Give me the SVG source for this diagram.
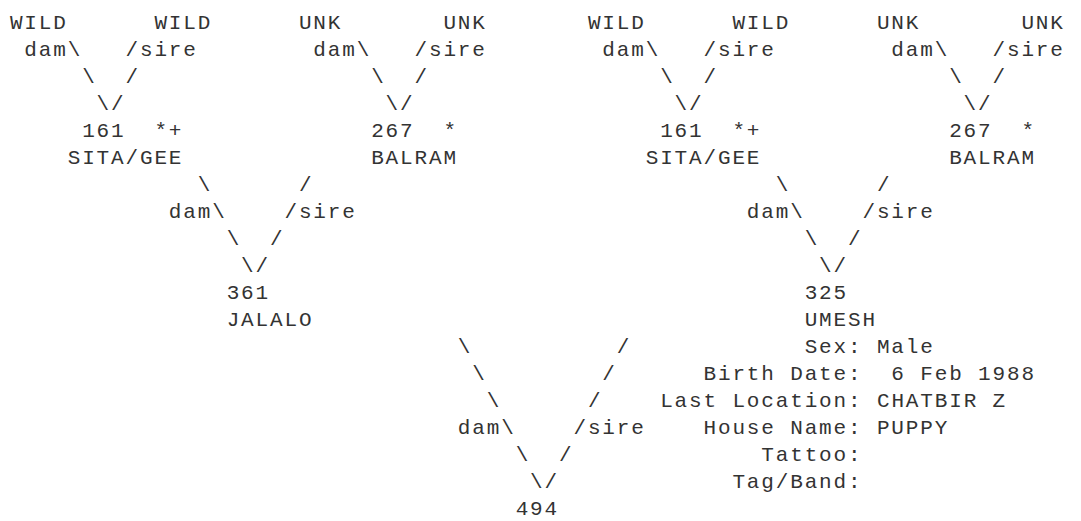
<svg xmlns="http://www.w3.org/2000/svg" width="1081" height="521" viewBox="0 0 1081 521">
<style>
text{font-family:"Liberation Mono","DejaVu Sans Mono",monospace;font-size:21px;letter-spacing:1.85px;fill:#333;}
</style>
<rect width="1081" height="521" fill="#fff"/>
<g transform="translate(0.9,0)">
<g id="connectors">
<text x="23.45" y="56">dam\</text><text x="124.6" y="56">/sire</text>
<text x="81.25" y="83">\</text><text x="124.6" y="83">/</text>
<text x="95.7" y="110">\/</text>
<text x="312.45" y="56">dam\</text><text x="413.6" y="56">/sire</text>
<text x="370.25" y="83">\</text><text x="413.6" y="83">/</text>
<text x="384.7" y="110">\/</text>
<text x="601.45" y="56">dam\</text><text x="702.6" y="56">/sire</text>
<text x="659.25" y="83">\</text><text x="702.6" y="83">/</text>
<text x="673.7" y="110">\/</text>
<text x="890.45" y="56">dam\</text><text x="991.6" y="56">/sire</text>
<text x="948.25" y="83">\</text><text x="991.6" y="83">/</text>
<text x="962.7" y="110">\/</text>
<text x="196.85" y="191">\</text><text x="298" y="191">/</text>
<text x="167.95" y="218">dam\</text><text x="283.55" y="218">/sire</text>
<text x="225.75" y="245">\</text><text x="269.1" y="245">/</text>
<text x="240.2" y="272">\/</text>
<text x="774.85" y="191">\</text><text x="876" y="191">/</text>
<text x="745.95" y="218">dam\</text><text x="861.55" y="218">/sire</text>
<text x="803.75" y="245">\</text><text x="847.1" y="245">/</text>
<text x="818.2" y="272">\/</text>
<text x="456.95" y="353">\</text><text x="615.9" y="353">/</text>
<text x="471.4" y="380">\</text><text x="601.45" y="380">/</text>
<text x="485.85" y="407">\</text><text x="587" y="407">/</text>
<text x="456.95" y="434">dam\</text><text x="572.55" y="434">/sire</text>
<text x="514.75" y="461">\</text><text x="558.1" y="461">/</text>
<text x="529.2" y="488">\/</text>
</g>
<g id="gp1"><text x="9" y="29">WILD</text></g>
<g id="gp2"><text x="153.5" y="29">WILD</text></g>
<g id="gp3"><text x="298" y="29">UNK</text></g>
<g id="gp4"><text x="442.5" y="29">UNK</text></g>
<g id="gp5"><text x="587" y="29">WILD</text></g>
<g id="gp6"><text x="731.5" y="29">WILD</text></g>
<g id="gp7"><text x="876" y="29">UNK</text></g>
<g id="gp8"><text x="1020.5" y="29">UNK</text></g>
<g id="p161a"><text x="81.25" y="137">161</text><text x="153.5" y="137">*+</text><text x="66.8" y="164">SITA/GEE</text></g>
<g id="p267a"><text x="370.25" y="137">267</text><text x="442.5" y="137">*</text><text x="370.25" y="164">BALRAM</text></g>
<g id="p161b"><text x="659.25" y="137">161</text><text x="731.5" y="137">*+</text><text x="644.8" y="164">SITA/GEE</text></g>
<g id="p267b"><text x="948.25" y="137">267</text><text x="1020.5" y="137">*</text><text x="948.25" y="164">BALRAM</text></g>
<g id="n361"><text x="225.75" y="299">361</text><text x="225.75" y="326">JALALO</text></g>
<g id="n325"><text x="803.75" y="299">325</text><text x="803.75" y="326">UMESH</text>
<text x="803.75" y="353">Sex: Male</text>
<text x="702.6" y="380">Birth Date:</text><text x="890.45" y="380">6 Feb 1988</text>
<text x="659.25" y="407">Last Location: CHATBIR Z</text>
<text x="702.6" y="434">House Name: PUPPY</text>
<text x="760.4" y="461">Tattoo:</text>
<text x="731.5" y="488">Tag/Band:</text>
</g>
<g id="n494"><text x="514.75" y="515">494</text></g>
</g>
</svg>
